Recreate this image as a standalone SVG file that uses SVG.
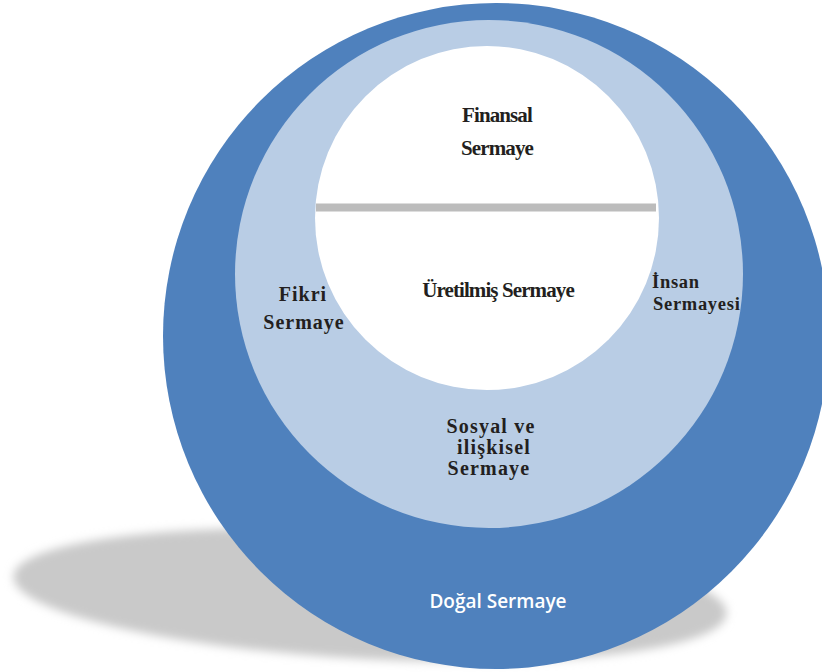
<svg xmlns="http://www.w3.org/2000/svg" width="822" height="672" viewBox="0 0 822 672">
<defs>
<filter id="blur" x="-10%" y="-30%" width="120%" height="160%"><feGaussianBlur stdDeviation="5"/></filter>
<style>
.tr{font-family:"Liberation Serif","Times New Roman",serif;font-weight:bold;fill:#231F20;text-anchor:middle}
.tight{font-size:21px;letter-spacing:-0.9px}
.wide{font-size:20px;letter-spacing:1px}
.soc{font-size:20px;letter-spacing:1.2px}
.ins{font-size:18.5px;letter-spacing:0.7px;text-anchor:start}
.sans{font-family:"Open Sans","Liberation Sans",sans-serif;font-weight:600;font-size:19px;fill:#FFFFFF;text-anchor:middle}
</style>
</defs>
<g id="shadow"><ellipse cx="370" cy="595" rx="357" ry="64" transform="rotate(3 370 595)" fill="#C9C9C9" filter="url(#blur)"/></g>
<g id="dogal"><circle cx="496" cy="336" r="333" fill="#4F81BD"/><text class="sans" x="498" y="608">Doğal Sermaye</text></g>
<g id="sosyal"><circle cx="489" cy="274" r="254" fill="#B9CDE5"/>
<text class="tr soc" x="491" y="433">Sosyal ve</text>
<text class="tr soc" x="494" y="454">ilişkisel</text>
<text class="tr soc" x="489" y="475">Sermaye</text></g>
<g id="fikri"><text class="tr wide" x="303" y="301">Fikri</text><text class="tr wide" x="304" y="329">Sermaye</text></g>
<g id="insan"><text class="tr ins" x="652" y="288">İnsan</text><text class="tr ins" x="653" y="310">Sermayesi</text></g>
<g id="uretilmis"><circle cx="487" cy="218" r="172" fill="#FFFFFF"/><text class="tr tight" x="498" y="297">Üretilmiş Sermaye</text></g>
<g id="finansal"><text class="tr tight" x="497" y="122">Finansal</text><text class="tr tight" x="497" y="155">Sermaye</text></g>
<g id="connectors"><line x1="316" y1="207.5" x2="656" y2="207.5" stroke="#BCBCBC" stroke-width="8"/></g>
</svg>
